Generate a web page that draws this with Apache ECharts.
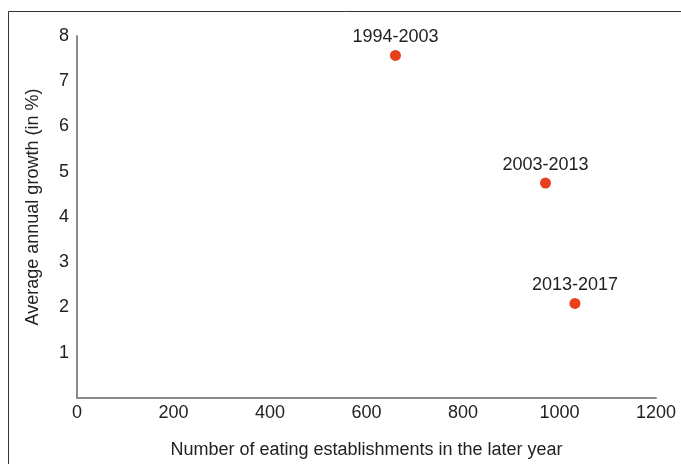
<!DOCTYPE html>
<html>
<head>
<meta charset="utf-8">
<script src="https://cdn.jsdelivr.net/npm/echarts@6/dist/echarts.min.js"></script>
<style>
  html, body { margin: 0; padding: 0; background: #fff; }
  #chart { width: 681px; height: 464px; }
</style>
</head>
<body>
<div id="chart"></div>
<script>
// Eating establishments vs. average annual growth, per period
const periods = ['1994-2003', '2003-2013', '2013-2017'];
const establishments = [660, 971, 1032];
const growthPct = [7.57, 4.75, 2.09];

const xTicks = { min: 0, max: 1200, interval: 200 };
const yTicks = { min: 0, max: 8, interval: 1 };

const points = periods.map((p, i) => ({ name: p, value: [establishments[i], growthPct[i]] }));

const font = 'Liberation Sans, Arial, sans-serif';
const textColor = '#222';
const axisColor = '#8a8a8a';

const chart = echarts.init(document.getElementById('chart'), null, { renderer: 'canvas' });
chart.setOption({
  backgroundColor: '#fff',
  animation: false,
  grid: { left: 77, right: 25, top: 36, bottom: 64 },
  graphic: [{
    type: 'rect',
    shape: { x: 8.5, y: 11.5, width: 700, height: 500 },
    style: { fill: 'none', stroke: '#333', lineWidth: 1 },
    silent: true
  }],
  xAxis: {
    type: 'value',
    min: xTicks.min, max: xTicks.max, interval: xTicks.interval,
    name: 'Number of eating establishments in the later year',
    nameLocation: 'middle',
    nameGap: 43,
    nameTextStyle: { fontFamily: font, fontSize: 18, color: textColor },
    axisLine: { show: true, lineStyle: { color: axisColor, width: 2 } },
    axisTick: { show: false },
    splitLine: { show: false },
    axisLabel: { fontFamily: font, fontSize: 18, color: textColor, margin: 6, formatter: v => String(v) }
  },
  yAxis: {
    type: 'value',
    min: yTicks.min, max: yTicks.max, interval: yTicks.interval,
    name: 'Average annual growth (in %)',
    nameLocation: 'middle',
    nameGap: 35,
    nameTextStyle: { fontFamily: font, fontSize: 18, color: textColor, padding: [0, 0, 0, 20] },
    axisLine: { show: true, lineStyle: { color: axisColor, width: 2 } },
    axisTick: { show: false },
    splitLine: { show: false },
    axisLabel: { fontFamily: font, fontSize: 18, color: textColor, margin: 8, showMinLabel: false }
  },
  series: [{
    type: 'scatter',
    data: points,
    symbol: 'circle',
    symbolSize: 11,
    itemStyle: { color: '#e8401c', opacity: 1 },
    label: {
      show: true,
      position: 'top',
      distance: 4,
      formatter: p => p.name,
      fontFamily: font,
      fontSize: 18,
      color: textColor
    }
  }]
});
</script>
</body>
</html>
